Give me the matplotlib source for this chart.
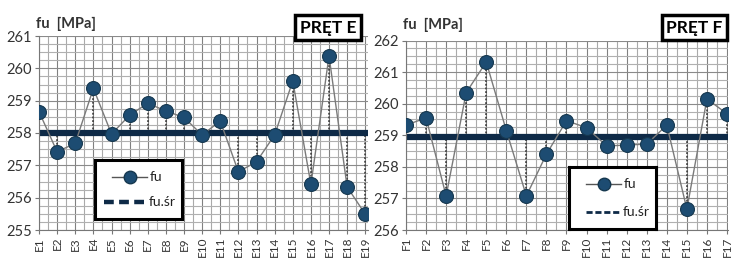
import matplotlib
matplotlib.use("Agg")
import matplotlib.pyplot as plt
import numpy as np

plt.rcParams['font.family'] = ['Lato', 'DejaVu Sans']

cats_e = [f"E{i}" for i in range(1, 20)]
fu_e = [258.66, 257.42, 257.68, 259.38, 257.97, 258.55, 258.92, 258.68, 258.48, 257.94,
        258.37, 256.80, 257.11, 257.94, 259.61, 256.41, 260.38, 256.33, 255.49]
mean_e = 258.0

cats_f = [f"F{i}" for i in range(1, 18)]
fu_f = [259.32, 259.55, 257.08, 260.35, 261.32, 259.15, 257.08, 258.40, 259.46, 259.24,
        258.66, 258.69, 258.72, 259.32, 256.66, 260.15, 259.68]
mean_f = 258.95

W, H = 732, 259
fig = plt.figure(figsize=(W / 100, H / 100), dpi=100)
fig.patch.set_facecolor('white')

NAVY = '#0e2a47'
MARK = '#1d4c72'


def panel(rect, cats, vals, mean, ylim, yticks, xmax, legend_rect, legend_thick):
    ax = fig.add_axes(rect)
    x = np.arange(len(cats))
    ax.set_xlim(0, xmax)
    ax.set_ylim(*ylim)
    # grid
    for gx in np.arange(0, len(cats) - 0.49, 0.5):
        ax.axvline(gx, color='#808080' if gx % 1 == 0 else '#aaaaaa', lw=0.8, zorder=0)
    for gy in np.arange(ylim[0], ylim[1] + 0.01, 0.25):
        ax.axhline(gy, color='#8a8a8a' if abs(gy - round(gy)) < 1e-6 else '#b0b0b0',
                   lw=0.8, zorder=0)
    # drop lines
    ax.vlines(x, np.minimum(vals, mean), np.maximum(vals, mean), colors='#333333',
              linestyles=(0, (1.2, 1.2)), lw=1.1, zorder=1)
    # mean line
    ax.axhline(mean, color=NAVY, lw=4.5, zorder=2)
    # series
    ax.plot(x, vals, color='#7a7a7a', lw=1.0, zorder=3)
    ax.plot(x, vals, ls='none', marker='o', ms=10, mfc=MARK, mec='#16384f', mew=0.8,
            zorder=4)
    ax.set_yticks(yticks)
    ax.set_yticklabels([str(t) for t in yticks], fontsize=10.5, color='#333333')
    ax.set_xticks(x)
    ax.set_xticklabels(cats, rotation=90, fontsize=8.5, color='#333333')
    ax.tick_params(axis='both', length=3, width=0.8, color='#777777', pad=2)
    for s in ax.spines.values():
        s.set_visible(False)
    ax.spines['left'].set_visible(True)
    ax.spines['left'].set_color('#777777')
    ax.spines['bottom'].set_visible(True)
    ax.spines['bottom'].set_color('#777777')
    ax.set_facecolor('white')
    # legend box
    lax = fig.add_axes(legend_rect)
    lax.set_xlim(0, 1)
    lax.set_ylim(0, 1)
    lax.set_xticks([])
    lax.set_yticks([])
    lax.set_facecolor('white')
    for s in lax.spines.values():
        s.set_linewidth(2.2)
        s.set_color('black')
    lax.plot([0.2, 0.6], [0.72, 0.72], color='#555555', lw=1.0)
    lax.plot([0.4], [0.72], marker='o', ms=9, mfc=MARK, mec='#16384f', ls='none')
    lax.text(0.63, 0.72, 'fu', va='center', ha='left', fontsize=10, color='#222222')
    if legend_thick:
        lax.plot([0.1, 0.6], [0.28, 0.28], color=NAVY, lw=3.2, ls=(0, (2.2, 1.2)))
    else:
        lax.plot([0.2, 0.6], [0.28, 0.28], color=NAVY, lw=2.0, ls=(0, (2.2, 1.0)))
    lax.text(0.62, 0.28, 'fu.śr', va='center', ha='left', fontsize=10, color='#222222')
    return ax


axE = panel([39 / W, 1 - 230 / H, 329 / W, 194 / H], cats_e, fu_e, mean_e, (255, 261),
            [255, 256, 257, 258, 259, 260, 261], 18.15,
            [95 / W, 1 - 219 / H, 87 / W, 59 / H], True)
axF = panel([406 / W, 1 - 230 / H, 322 / W, 189.5 / H], cats_f, fu_f, mean_f, (256, 262),
            [256, 257, 258, 259, 260, 261, 262], 16.05,
            [569 / W, 1 - 229 / H, 87 / W, 62 / H], False)

fig.text(36 / W, 1 - 24 / H, 'fu  [MPa]', fontsize=10.5, fontweight='bold', color='#333333',
         va='center', ha='left')
fig.text(403 / W, 1 - 25 / H, 'fu  [MPa]', fontsize=10.5, fontweight='bold', color='#333333',
         va='center', ha='left')

for (x0, x1, label) in [(293, 363, 'PRĘT E'), (659, 730, 'PRĘT F')]:
    fig.text((x0 + x1) / 2 / W, 1 - 27.5 / H, label, fontsize=12.5, fontweight='bold',
             color='black', ha='center', va='center',
             bbox=dict(boxstyle='square,pad=0.25', fc='white', ec='black', lw=2.5))

fig.savefig('out.png', dpi=100, facecolor='white')
